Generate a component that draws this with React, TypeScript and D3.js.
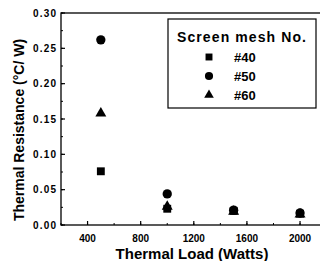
import React from "react";
import { scaleLinear, symbol, symbolSquare, symbolCircle, symbolTriangle, range } from "d3";

// values
const loads = [500, 1000, 1500, 2000];
const mesh40 = [0.076, 0.023, 0.02, 0.016];
const mesh50 = [0.262, 0.044, 0.021, 0.017];
const mesh60 = [0.158, 0.026, 0.019, 0.015];
const seriesNames = ["#40", "#50", "#60"];
const xTicks = [400, 800, 1200, 1600, 2000];
const yTicks = [0, 0.05, 0.1, 0.15, 0.2, 0.25, 0.3];

const W = 320;
const H = 261;
const left = 61;
const top = 13;
const bottom = 225;
const font = "'Liberation Sans', Arial, sans-serif";

function App() {
  const xScale = scaleLinear().domain([200, 2200]).range([left, left + 2000 * 0.1328]);
  const yScale = scaleLinear().domain([0, 0.3]).range([bottom, top]);

  const shapes = [
    symbol().type(symbolSquare).size(62)(),
    symbol().type(symbolCircle).size(68)(),
    symbol().type(symbolTriangle).size(52)(),
  ];
  const legendShapes = [
    symbol().type(symbolSquare).size(48)(),
    symbol().type(symbolCircle).size(52)(),
    symbol().type(symbolTriangle).size(40)(),
  ];
  const series = [mesh40, mesh50, mesh60];

  const xMinor = range(200, 2201, 200);
  const yMinor = range(0, 0.3001, 0.025);

  return (
    <svg width={W} height={H} style={{ position: "absolute", left: 0, top: 0, background: "#fff" }}>
      {/* frame */}
      <rect x={left} y={top} width={xScale(2200) - left} height={bottom - top} fill="none" stroke="#000" strokeWidth={1.3} />

      {/* minor ticks */}
      {xMinor.map((v) => (
        <line key={"xm" + v} x1={xScale(v)} x2={xScale(v)} y1={bottom} y2={bottom - 2} stroke="#000" strokeWidth={1} />
      ))}
      {yMinor.map((v) => (
        <line key={"ym" + v} x1={left} x2={left + 2} y1={yScale(v)} y2={yScale(v)} stroke="#000" strokeWidth={1} />
      ))}

      {/* major ticks + labels */}
      {xTicks.map((v) => (
        <g key={"x" + v}>
          <line x1={xScale(v)} x2={xScale(v)} y1={bottom} y2={bottom - 4} stroke="#000" strokeWidth={1.2} />
          <text x={xScale(v)} y={242} textAnchor="middle" fontFamily={font} fontWeight="bold" fontSize={10}>
            {v}
          </text>
        </g>
      ))}
      {yTicks.map((v) => (
        <g key={"y" + v}>
          <line x1={left} x2={left + 4} y1={yScale(v)} y2={yScale(v)} stroke="#000" strokeWidth={1.2} />
          <text
            x={33}
            y={yScale(v) + 3.5}
            textLength={23}
            lengthAdjust="spacing"
            fontFamily={font}
            fontWeight="bold"
            fontSize={10}
          >
            {v.toFixed(2)}
          </text>
        </g>
      ))}

      {/* axis titles */}
      <text x={192} y={259} textAnchor="middle" fontFamily={font} fontWeight="bold" fontSize={15}>
        Thermal Load (Watts)
      </text>
      <text
        transform={`translate(24, 130) rotate(-90)`}
        textAnchor="middle"
        fontFamily={font}
        fontWeight="bold"
        fontSize={14}
      >
        Thermal Resistance (°C/ W)
      </text>

      {/* data points */}
      {series.map((vals, si) =>
        vals.map((v, i) => (
          <path key={si + "-" + i} d={shapes[si]} transform={`translate(${xScale(loads[i])},${yScale(v)})`} fill="#000" />
        ))
      )}

      {/* legend */}
      <rect x={168} y={19} width={148} height={89} fill="#fff" stroke="#000" strokeWidth={1.2} />
      <text x={177} y={42} textLength={129} lengthAdjust="spacing" fontFamily={font} fontWeight="bold" fontSize={14}>
        Screen mesh No.
      </text>
      {seriesNames.map((name, i) => (
        <g key={name}>
          <path d={legendShapes[i]} transform={`translate(209,${57 + i * 19})`} fill="#000" />
          <text x={234} y={57 + i * 19 + 5} fontFamily={font} fontWeight="bold" fontSize={13}>
            {name}
          </text>
        </g>
      ))}
    </svg>
  );
}

export default App;
